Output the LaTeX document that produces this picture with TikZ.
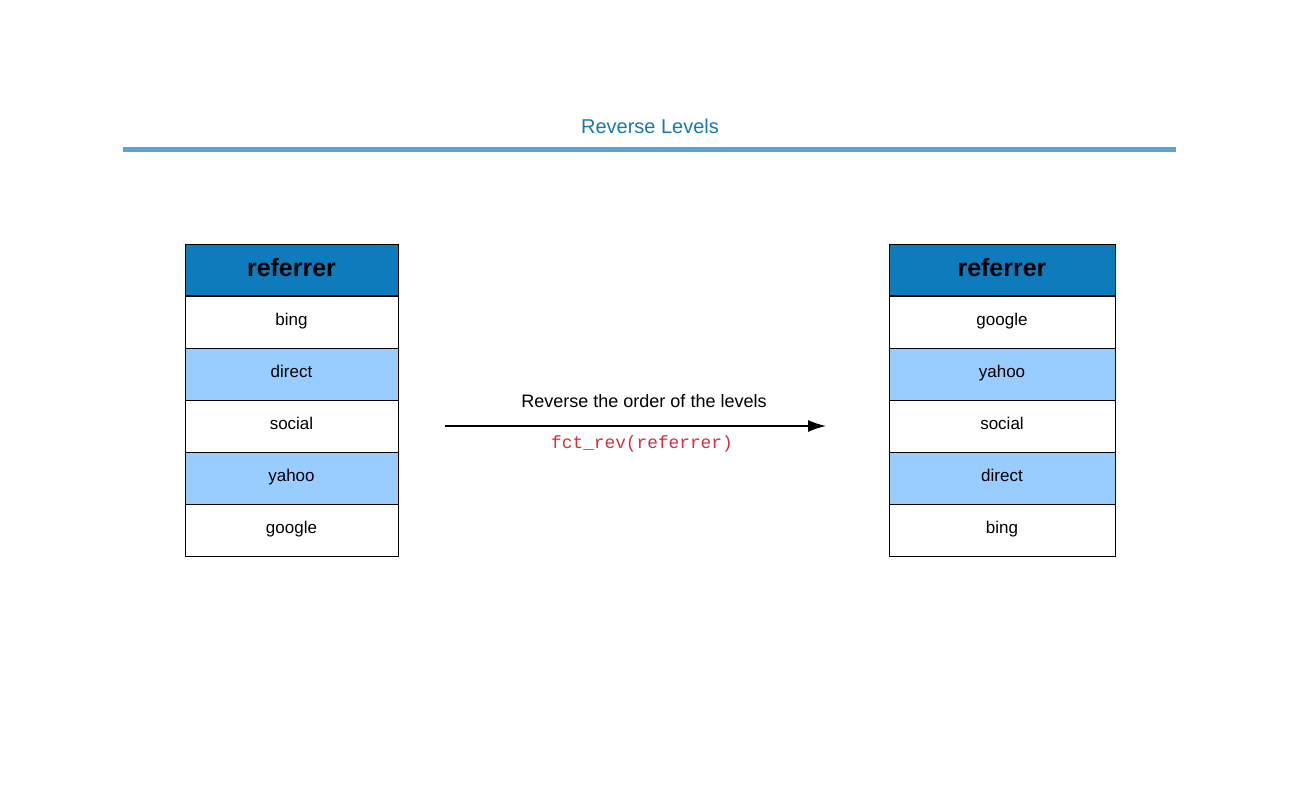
\documentclass[tikz,border=0pt]{standalone}
\usepackage{fontspec}
\setmainfont{Liberation Sans}
\setmonofont{Liberation Mono}
\usetikzlibrary{positioning}
\usetikzlibrary{arrows.meta}
\definecolor{titleblue}{HTML}{1A78AE}
\definecolor{ruleblue}{HTML}{5AA5CB}
\definecolor{headblue}{HTML}{0E7BBD}
\definecolor{levelblue}{HTML}{99CCFF}
\definecolor{codered}{HTML}{D0313C}
\tikzset{
	level/.style={draw=black, fill=white, line width=1pt, minimum height=52pt,
		outer sep=0pt, inner sep=0pt, text height=12pt, text depth=5pt,
		font=\fontsize{17}{20}\selectfont},
	levelalt/.style={level, fill=levelblue},
	header/.style={level, fill=headblue, text height=15pt, text depth=3pt,
		font=\fontsize{25}{29}\selectfont\bfseries},
	headline/.style={draw=black, line width=2pt},
	reorder/.style={draw=black, line width=1.5pt, -{Latex[length=18pt,width=12pt]}},
}

\begin{document}
\begin{tikzpicture}[x=1pt, y=-1pt]
	\useasboundingbox (0,0) rectangle (1300,800);
	% title
	\node[text=titleblue, font=\fontsize{20}{23}\selectfont] (title) at (650,126) {Reverse Levels};
	\draw[ruleblue, line width=5pt] (123,149) -- (1176,149);
	% levels before
	\node[header, minimum width=213pt] (lhead) at (291.5,270) {referrer};
	\node[level, minimum width=213pt, below=0pt of lhead] (l1) {bing};
	\node[levelalt, minimum width=213pt, below=0pt of l1] (l2) {direct};
	\node[level, minimum width=213pt, below=0pt of l2] (l3) {social};
	\node[levelalt, minimum width=213pt, below=0pt of l3] (l4) {yahoo};
	\node[level, minimum width=213pt, below=0pt of l4] (l5) {google};
	\draw[headline] (lhead.south west) -- (lhead.south east);
	% levels after
	\node[header, minimum width=226pt] (rhead) at (1002,270) {referrer};
	\node[level, minimum width=226pt, below=0pt of rhead] (r1) {google};
	\node[levelalt, minimum width=226pt, below=0pt of r1] (r2) {yahoo};
	\node[level, minimum width=226pt, below=0pt of r2] (r3) {social};
	\node[levelalt, minimum width=226pt, below=0pt of r3] (r4) {direct};
	\node[level, minimum width=226pt, below=0pt of r4] (r5) {bing};
	\draw[headline] (rhead.south west) -- (rhead.south east);
	% arrow
	\coordinate (from) at (445,426);
	\coordinate (to) at (826,426);
	\draw[reorder] (from) -- (to);
	\node[font=\fontsize{18}{21}\selectfont] (what) at (644,401) {Reverse the order of the levels};
	\node[text=codered, font=\fontsize{17.8}{21}\selectfont\ttfamily] (how) at (642,444) {fct\_rev(referrer)};
\end{tikzpicture}
\end{document}
